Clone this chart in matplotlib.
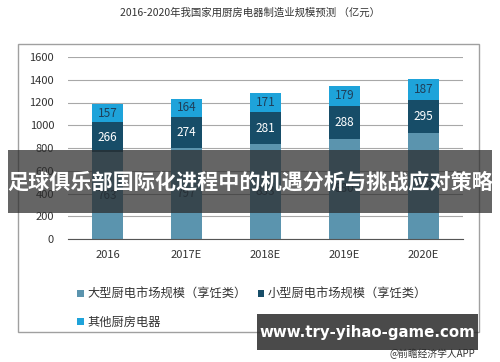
import numpy as np
import matplotlib.pyplot as plt
from matplotlib.patches import Rectangle

plt.rcParams['font.family'] = ['Noto Sans CJK SC', 'DejaVu Sans']

# ── Data ───────────────────────────────────────────────────
years       = ['2016', '2017E', '2018E', '2019E', '2020E']
large_cook  = [763, 797, 833, 880, 928]
small_cook  = [266, 274, 281, 288, 295]
other_appl  = [157, 164, 171, 179, 187]
series_names = ['大型厨电市场规模（享饪类）', '小型厨电市场规模（享饪类）', '其他厨房电器']

title_text  = '2016-2020年我国家用厨房电器制造业规模预测 （亿元）'
banner_text = '足球俱乐部国际化进程中的机遇分析与挑战应对策略'
site_text   = 'www.try-yihao-game.com'
credit_text = '@前瞻经济学人APP'

colors      = ['#5b94ae', '#174d68', '#1ea3da']
text_colors = ['#1f3f5a', 'white', '#1f3f5a']

# ── Figure ─────────────────────────────────────────────────
fig = plt.figure(figsize=(5, 3.62), dpi=100)
W, H = 500, 362

def fx(x): return x / W
def fy(y): return 1 - y / H

# outer frame
fig.patches.append(Rectangle((fx(18), fy(332)), fx(479) - fx(18), fy(44) - fy(332),
                             transform=fig.transFigure, fill=False,
                             edgecolor='#a0a0a0', linewidth=1.0, zorder=0))

fig.text(0.5, fy(13), title_text, ha='center', va='center',
         fontsize=7.5, color='#333333')

ax = fig.add_axes([fx(68), fy(239), fx(463) - fx(68), fy(57) - fy(239)])

x = np.arange(len(years))
bottom = np.zeros(len(years))
for vals, col, tcol, name in zip([large_cook, small_cook, other_appl],
                                 colors, text_colors, series_names):
    vals = np.array(vals)
    ax.bar(x, vals, width=0.4, bottom=bottom, color=col, label=name, zorder=2)
    for xi, b, v in zip(x, bottom, vals):
        ax.text(xi, b + v / 2, str(v), ha='center', va='center',
                fontsize=8.5, color=tcol, zorder=3)
    bottom += vals

ax.set_xlim(-0.5, len(years) - 0.5)
ax.set_ylim(0, 1600)
ax.set_yticks(range(0, 1601, 200))
ax.set_xticks(x)
ax.set_xticklabels(years)
ax.grid(axis='y', color='#a8a8a8', linewidth=0.8, zorder=0)
ax.set_axisbelow(True)
for s in ['top', 'right', 'left']:
    ax.spines[s].set_visible(False)
ax.spines['bottom'].set_color('#555555')
ax.tick_params(axis='both', length=0, labelsize=8, colors='#333333')
ax.tick_params(axis='y', pad=10)
ax.tick_params(axis='x', pad=8)

# legend: row 1 = large, small; row 2 = other (column-first fill)
handles, labels = ax.get_legend_handles_labels()
order = [0, 2, 1]
fig.legend([handles[i] for i in order], [labels[i] for i in order],
           loc='upper left', bbox_to_anchor=(fx(66), fy(277)),
           ncol=2, frameon=False, fontsize=8.8, handlelength=0.55, handleheight=0.55,
           handletextpad=0.3, columnspacing=0.9, labelspacing=1.2,
           labelcolor='#333333')

# overlays
fig.patches.append(Rectangle((fx(8), fy(213)), fx(492) - fx(8), fy(150) - fy(213),
                             transform=fig.transFigure, facecolor='#2a2a2a',
                             alpha=0.72, edgecolor='none', zorder=5))
fig.text(0.5, fy(182), banner_text, ha='center', va='center', fontsize=15.2,
         fontweight='bold', color='white', zorder=6)

fig.text(fx(475), fy(354), credit_text, ha='right', va='center',
         fontsize=7, color='#333333', zorder=4)
fig.patches.append(Rectangle((fx(257), fy(350)), fx(478) - fx(257), fy(314) - fy(350),
                             transform=fig.transFigure, facecolor='#2a2a2a',
                             alpha=0.85, edgecolor='none', zorder=5))
fig.text(fx(367), fy(332), site_text, ha='center', va='center', fontsize=10.8,
         fontweight='bold', color='white', family='DejaVu Sans', zorder=6)

plt.savefig('out.png', dpi=100)
